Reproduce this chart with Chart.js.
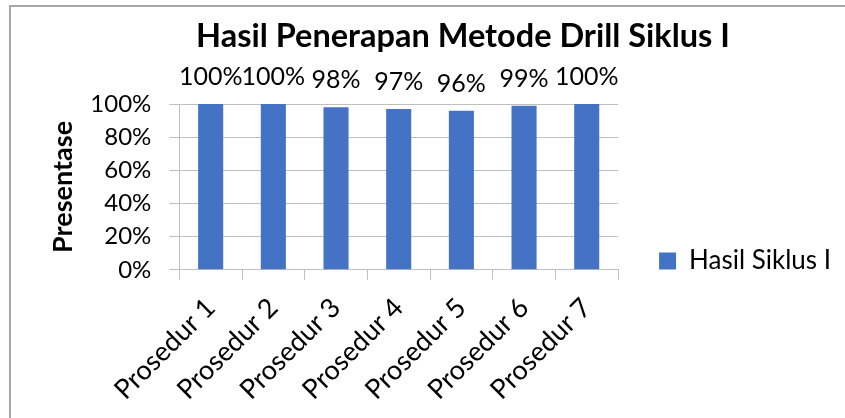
<!DOCTYPE html>
<html>
<head>
<meta charset="utf-8">
<script src="https://cdn.jsdelivr.net/npm/chart.js@4"></script>
<style>
  body { margin: 0; background: #fff; }
  #wrap { width: 845px; height: 418px; }
</style>
</head>
<body>
<div id="wrap"><canvas id="myChart" width="845" height="418"></canvas></div>
<script>
const categories = ['Prosedur 1', 'Prosedur 2', 'Prosedur 3', 'Prosedur 4', 'Prosedur 5', 'Prosedur 6', 'Prosedur 7']
const hasilSiklus = [100, 100, 98, 97, 96, 99, 100]
const yTicks = [0, 20, 40, 60, 80, 100]

const fontName = 'Lato'

// title, frame and value labels drawn on top of the chart
const extras = {
  id: 'extras',
  afterDraw(chart) {
    const ctx = chart.ctx
    ctx.save()
    // frame (only left and top show in the picture)
    ctx.strokeStyle = '#a6a6a6'
    ctx.lineWidth = 2
    ctx.beginPath()
    ctx.moveTo(10, 418)
    ctx.lineTo(10, 6)
    ctx.lineTo(845, 6)
    ctx.stroke()

    // title
    ctx.fillStyle = '#000'
    ctx.font = 'bold 32.5px ' + fontName
    ctx.textAlign = 'center'
    ctx.textBaseline = 'alphabetic'
    ctx.fillText('Hasil Penerapan Metode Drill Siklus I', 463, 47)

    // value labels
    ctx.font = '25px ' + fontName
    const meta = chart.getDatasetMeta(0)
    meta.data.forEach((bar, i) => {
      ctx.fillText(hasilSiklus[i] + '%', bar.x, bar.y - 19)
    })
    ctx.restore()
  }
}

new Chart(document.getElementById('myChart'), {
  type: 'bar',
  data: {
    labels: categories,
    datasets: [{
      label: 'Hasil Siklus I',
      data: hasilSiklus,
      backgroundColor: '#4472C4',
      borderWidth: 0,
      barPercentage: 0.4,
      categoryPercentage: 1
    }]
  },
  options: {
    responsive: false,
    animation: false,
    layout: {
      padding: { top: 104, left: 47, right: 4, bottom: 0 }
    },
    plugins: {
      title: { display: false },
      tooltip: { enabled: false },
      legend: {
        position: 'right',
        align: 'center',
        maxWidth: 300,
        labels: {
          boxWidth: 17,
          boxHeight: 17,
          color: '#000',
          padding: 14,
          font: { family: fontName, size: 26 }
        }
      }
    },
    scales: {
      x: {
        grid: {
          offset: true,
          drawOnChartArea: false,
          color: '#bfbfbf',
          tickLength: 10
        },
        border: { color: '#bfbfbf' },
        ticks: {
          color: '#000',
          padding: 12,
          minRotation: 45,
          maxRotation: 45,
          autoSkip: false,
          font: { family: fontName, size: 27 }
        }
      },
      y: {
        min: 0,
        max: 100,
        afterBuildTicks(scale) {
          scale.ticks = yTicks.map(v => ({ value: v }))
        },
        grid: { color: '#bfbfbf', tickLength: 10 },
        border: { color: '#bfbfbf' },
        ticks: {
          color: '#000',
          padding: 18,
          autoSkip: false,
          font: { family: fontName, size: 24 },
          callback: v => v + '%'
        },
        title: {
          display: true,
          text: 'Presentase',
          color: '#000',
          padding: { top: 0, bottom: 10 },
          font: { family: fontName, size: 27, weight: 'bold' }
        }
      },
      // empty right axis, only keeps a gap between plot and legend
      gap: {
        position: 'right',
        display: true,
        grid: { display: false },
        border: { display: false },
        ticks: { display: false },
        afterFit(scale) {
          scale.width = 27
        }
      }
    }
  },
  plugins: [extras]
})
</script>
</body>
</html>
